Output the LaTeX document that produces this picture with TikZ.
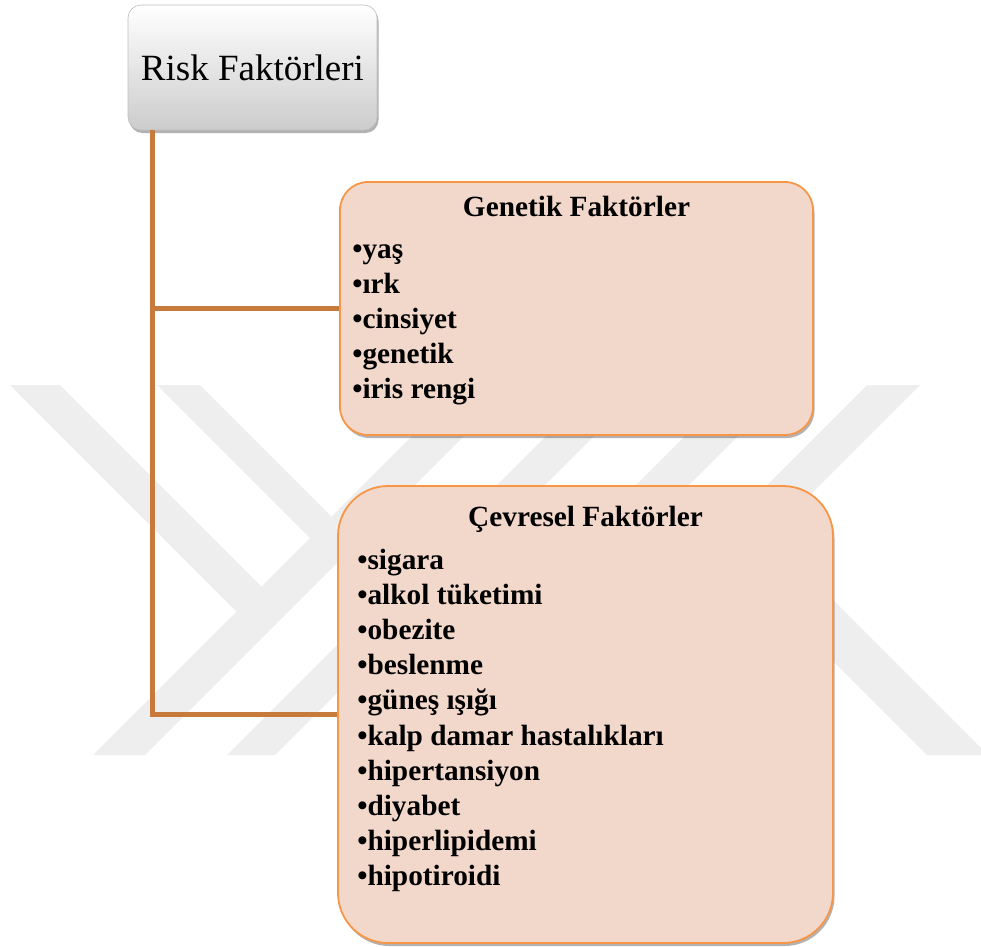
\documentclass[tikz,border=0pt]{standalone}
\usepackage{fontspec}
\setmainfont{Liberation Serif}
\usetikzlibrary{shadows}

\definecolor{markgray}{RGB}{238,238,238}
\definecolor{peach}{RGB}{242,215,203}
\definecolor{boxline}{RGB}{247,150,70}
\definecolor{linkline}{RGB}{200,122,58}

\begin{document}
\begin{tikzpicture}[x=1pt,y=-1pt]
\tikzset{
  factorbox/.style={draw=boxline, line width=1.8pt, fill=peach, inner sep=0pt,
    drop shadow={shadow xshift=1.5pt, shadow yshift=-3pt, opacity=.3, fill=black}},
  headtext/.style={anchor=base, inner sep=0pt, font=\fontsize{29.3}{35}\selectfont\bfseries},
  itemtext/.style={anchor=base west, inner sep=0pt, font=\fontsize{29.3}{35}\selectfont\bfseries},
  conn/.style={draw=linkline, line width=4.5pt}
}
\useasboundingbox (0,0) rectangle (981,946);

% watermark in the background
\begin{scope}
  \clip (0,385) rectangle (981,755);
  \fill[markgray] (463,385) -- (515,385) -- (145,755) -- (93,755) -- cycle;
  \fill[markgray] (597,385) -- (645,385) -- (275,755) -- (227,755) -- cycle;
  \fill[markgray] (736,385) -- (789,385) -- (419,755) -- (366,755) -- cycle;
  \fill[markgray] (867,385) -- (920,385) -- (550,755) -- (497,755) -- cycle;
  \fill[markgray] (10,385) -- (60,385) -- (272.5,597.5) -- (247.5,622.5) -- cycle;
  \fill[markgray] (157,385) -- (200,385) -- (342.5,527.5) -- (321,549) -- cycle;
  \fill[markgray] (759,526) -- (988,755) -- (927,755) -- (728.5,556.5) -- cycle;
\end{scope}

\node[draw=black!25, line width=.6pt, rounded corners=13pt, inner sep=0pt,
  top color=white, middle color=black!3, bottom color=black!20,
  minimum width=249pt, minimum height=125pt,
  drop shadow={shadow xshift=1.5pt, shadow yshift=-3pt, opacity=.3, fill=black},
  font=\fontsize{37}{44}\selectfont] (risk) at (252.5,67.5) {Risk Faktörleri};

\node[factorbox, rounded corners=28pt, minimum width=473pt, minimum height=253pt] (gen) at (576.5,308.5) {};
\node[factorbox, rounded corners=50pt, minimum width=495pt, minimum height=457pt] (cev) at (585.5,714.5) {};

\node[headtext] (gentitle) at ([yshift=-35pt]gen.north) {Genetik Faktörler};
\foreach \txt [count=\i] in {yaş, ırk, cinsiyet, genetik, iris rengi}
  \node[itemtext] (gen\i) at ([xshift=13pt, yshift={-77pt-35.2pt*(\i-1)}]gen.north west) {•\txt};

\node[headtext] (cevtitle) at ([yshift=-41pt]cev.north) {Çevresel Faktörler};
\foreach \txt [count=\i] in {sigara, alkol tüketimi, obezite, beslenme, güneş ışığı,
    kalp damar hastalıkları, hipertansiyon, diyabet, hiperlipidemi, hipotiroidi}
  \node[itemtext] (cev\i) at ([xshift=20pt, yshift={-84pt-35.2pt*(\i-1)}]cev.north west) {•\txt};

\coordinate (trunk) at ([xshift=25pt]risk.south west);
\draw[conn] (trunk) |- (cev.west);
\draw[conn] (trunk |- gen.west) -- (gen.west);
\end{tikzpicture}
\end{document}
